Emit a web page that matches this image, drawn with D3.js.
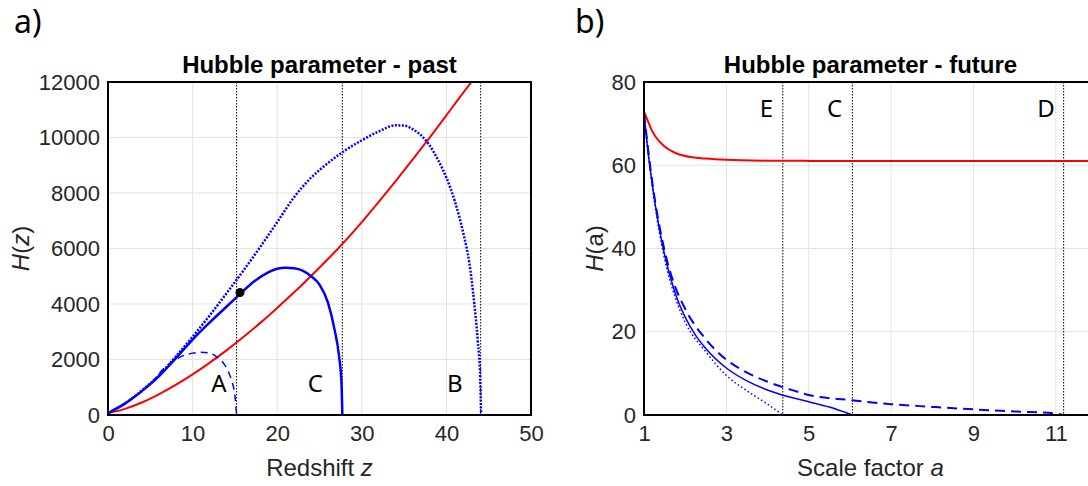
<!DOCTYPE html>
<html>
<head>
<meta charset="utf-8">
<script src="https://cdn.jsdelivr.net/npm/d3@7/dist/d3.min.js"></script>
<style>
  html, body { margin: 0; padding: 0; background: #fff; }
  svg { display: block; font-family: "Liberation Sans", Arial, sans-serif; }
</style>
</head>
<body>
<svg id="fig" width="1088" height="486"></svg>
<script>
// ---- panel a: past, redshift z ----
var pastXTicks = [0, 10, 20, 30, 40, 50];
var pastYTicks = [0, 2000, 4000, 6000, 8000, 10000, 12000];

var pastRedZ = [0, 2, 4, 6, 8, 10, 12, 14, 16, 18, 20, 22, 24, 26, 28, 30, 32, 34, 36, 38, 40, 42, 43.3];
var pastRedH = [70, 220, 450, 745, 1085, 1465, 1880, 2330, 2810, 3320, 3860, 4420, 5010, 5620, 6260, 6950, 7680, 8430, 9200, 9990, 10800, 11620, 12130];

var pastSolidZ = [0, 2, 4, 6, 8, 10, 12, 14, 15.5, 17, 19, 20, 21, 22, 23, 24, 25, 26, 26.8, 27.3, 27.6, 27.7];
var pastSolidH = [70, 410, 860, 1390, 2040, 2720, 3330, 3900, 4330, 4750, 5150, 5270, 5310, 5290, 5200, 5000, 4700, 4050, 3050, 2150, 1150, 0];

var pastDottedZ = [0, 2, 4, 6, 8, 10, 12, 14, 16, 18, 20, 22, 24, 26, 28, 30, 32, 34, 35, 36, 37, 38, 39, 40, 41, 42, 42.7, 43.3, 43.7, 44.0, 44.1];
var pastDottedH = [70, 420, 880, 1420, 2100, 2820, 3580, 4380, 5200, 6060, 6950, 7850, 8550, 9080, 9530, 9900, 10220, 10440, 10430, 10300, 10080, 9720, 9200, 8550, 7700, 6550, 5500, 4000, 2700, 1300, 0];

var pastDashedZ = [5.2, 6, 7, 8, 9, 10, 11, 12, 13, 14, 14.6, 15, 15.2];
var pastDashedH = [1150, 1480, 1780, 2000, 2150, 2230, 2260, 2230, 2060, 1700, 1250, 700, 0];

var pastMarkers = [15.2, 27.7, 44.05];
var pastPoint = [15.6, 4410];
var pastLetters = ['A', 'C', 'B'];
var pastLetterZ = [13.1, 24.5, 41.0];
var pastLetterH = [830, 830, 830];

// ---- panel b: future, scale factor a ----
var futXTicks = [1, 3, 5, 7, 9, 11];
var futYTicks = [0, 20, 40, 60, 80];

var futRedA = [1, 1.1, 1.2, 1.3, 1.5, 1.75, 2, 2.5, 3, 4, 5, 7, 10, 12];
var futRedH = [73, 70.5, 68.2, 66.6, 64.5, 63.0, 62.2, 61.6, 61.3, 61.1, 61.05, 61.0, 61.0, 61.0];

var futSolidA = [1, 1.1, 1.2, 1.35, 1.5, 1.75, 2, 2.25, 2.5, 3, 3.5, 4, 4.4, 5, 5.5, 6.06];
var futSolidH = [72.5, 63, 55.5, 46, 38.5, 29.5, 23.5, 19.2, 16, 11.3, 8.2, 6.0, 4.7, 3.2, 1.9, 0];

var futDashedA = [1, 1.2, 1.5, 1.75, 2, 2.5, 3, 3.5, 4, 4.5, 5, 6, 7, 8, 9, 10, 11, 11.19];
var futDashedH = [72.5, 56, 39.5, 31, 25.5, 18.2, 13.3, 10.2, 8.0, 6.3, 4.8, 3.6, 2.6, 1.95, 1.35, 0.85, 0.35, 0];

var futDottedA = [1, 1.2, 1.5, 1.75, 2, 2.5, 3, 3.5, 4, 4.37];
var futDottedH = [72.5, 55, 37.5, 28.5, 22.3, 15.2, 9.5, 5.8, 2.6, 0];

var futMarkers = [4.37, 6.06, 11.19];
var futLetters = ['E', 'C', 'D'];
var futLetterA = [3.97, 5.63, 10.76];
var futLetterH = [71.7, 71.7, 71.7];

(function (d3) {
    'use strict';

    var svg = d3.select('#fig');
    var top = 82, bottom = 415;

    function zip(xs, ys) {
        return xs.map(function (x, i) { return [x, ys[i]]; });
    }

    function drawPanel(p) {
        var x = d3.scaleLinear().domain(p.xDomain).range([p.left, p.right]),
            y = d3.scaleLinear().domain(p.yDomain).range([bottom, top]),
            g = svg.append('g');

        var clipId = 'clip-' + p.id;
        g.append('clipPath').attr('id', clipId)
            .append('rect')
            .attr('x', p.left).attr('y', top)
            .attr('width', p.right - p.left).attr('height', bottom - top);

        // grid
        g.append('g').attr('class', 'grid')
            .selectAll('line').data(p.xTicks).enter().append('line')
            .attr('x1', function (d) { return x(d); }).attr('x2', function (d) { return x(d); })
            .attr('y1', top).attr('y2', bottom)
            .attr('stroke', '#e3e3e3').attr('stroke-width', 1);
        g.append('g').attr('class', 'grid')
            .selectAll('line').data(p.yTicks).enter().append('line')
            .attr('x1', p.left).attr('x2', p.right)
            .attr('y1', function (d) { return y(d); }).attr('y2', function (d) { return y(d); })
            .attr('stroke', '#e3e3e3').attr('stroke-width', 1);

        // dotted reference lines
        g.append('g').selectAll('line').data(p.markers).enter().append('line')
            .attr('x1', function (d) { return x(d); }).attr('x2', function (d) { return x(d); })
            .attr('y1', top).attr('y2', bottom)
            .attr('stroke', '#000').attr('stroke-width', 1)
            .attr('stroke-dasharray', '1.5,1.5');

        var line = d3.line()
            .x(function (d) { return x(d[0]); })
            .y(function (d) { return y(d[1]); })
            .curve(d3.curveMonotoneX);

        var curves = g.append('g').attr('clip-path', 'url(#' + clipId + ')');
        p.series.forEach(function (s) {
            curves.append('path')
                .datum(zip(s.x, s.y))
                .attr('d', line)
                .attr('fill', 'none')
                .attr('stroke', s.color)
                .attr('stroke-width', s.width)
                .attr('stroke-dasharray', s.dash || null)
                .attr('stroke-linejoin', 'round');
        });

        if (p.point) {
            g.append('circle')
                .attr('cx', x(p.point[0])).attr('cy', y(p.point[1]))
                .attr('r', 4.5).attr('fill', '#000');
        }

        // letters
        g.append('g').selectAll('text').data(p.letters).enter().append('text')
            .attr('x', function (d, i) { return x(p.letterX[i]); })
            .attr('y', function (d, i) { return y(p.letterY[i]); })
            .attr('text-anchor', 'middle')
            .style('font-family', '"Noto Sans", "Open Sans", sans-serif')
            .style('font-size', '24px')
            .attr('fill', '#000')
            .text(function (d) { return d; });

        // axes, labels only
        var xAxis = d3.axisBottom(x).tickValues(p.xTicks).tickFormat(d3.format('d')).tickSize(0).tickPadding(10);
        var yAxis = d3.axisLeft(y).tickValues(p.yTicks).tickFormat(d3.format('d')).tickSize(0).tickPadding(8);
        var ax = g.append('g').attr('transform', 'translate(0,' + bottom + ')').call(xAxis);
        var ay = g.append('g').attr('transform', 'translate(' + p.left + ',0)').call(yAxis);
        [ax, ay].forEach(function (a) {
            a.select('.domain').remove();
            a.selectAll('text')
                .style('font-family', '"Liberation Sans", Arial, sans-serif')
                .style('font-size', '22px')
                .attr('fill', '#262626');
        });

        // frame
        g.append('rect')
            .attr('x', p.left).attr('y', top)
            .attr('width', p.right - p.left).attr('height', bottom - top)
            .attr('fill', 'none').attr('stroke', '#000').attr('stroke-width', 2);

        // title
        g.append('text')
            .attr('x', (p.left + p.right) / 2).attr('y', 73)
            .attr('text-anchor', 'middle')
            .style('font-weight', 'bold').style('font-size', '24px')
            .attr('fill', '#000')
            .text(p.title);

        // x label
        var xl = g.append('text')
            .attr('x', (p.left + p.right) / 2).attr('y', 476)
            .attr('text-anchor', 'middle')
            .style('font-size', '24px').attr('fill', '#262626');
        xl.append('tspan').text(p.xLabel[0]);
        xl.append('tspan').style('font-style', 'italic').text(p.xLabel[1]);

        // y label
        var yl = g.append('text')
            .attr('transform', 'translate(' + p.yLabelX + ',' + (top + bottom) / 2 + ') rotate(-90)')
            .attr('text-anchor', 'middle')
            .style('font-size', '24px').attr('fill', '#262626');
        yl.append('tspan').style('font-style', 'italic').text('H');
        yl.append('tspan').text('(');
        yl.append('tspan').style('font-style', p.yVarItalic ? 'italic' : 'normal').text(p.yVar);
        yl.append('tspan').text(')');

        // panel tag
        svg.append('text')
            .attr('x', p.tagX).attr('y', 33)
            .style('font-family', '"Noto Sans", "Open Sans", sans-serif')
            .style('font-size', '32px').attr('fill', '#000')
            .text(p.tag);
    }

    drawPanel({
        id: 'past', tag: 'a)', tagX: 14,
        left: 108, right: 531,
        xDomain: [0, 50], yDomain: [0, 12000],
        xTicks: pastXTicks, yTicks: pastYTicks,
        title: 'Hubble parameter - past',
        xLabel: ['Redshift ', 'z'], yVar: 'z', yVarItalic: true, yLabelX: 29,
        markers: pastMarkers,
        point: pastPoint,
        letters: pastLetters, letterX: pastLetterZ, letterY: pastLetterH,
        series: [
            { x: pastRedZ, y: pastRedH, color: '#ff0000', width: 2 },
            { x: pastDashedZ, y: pastDashedH, color: '#0000ff', width: 1.5, dash: '7,5' },
            { x: pastDottedZ, y: pastDottedH, color: '#0000ff', width: 2.5, dash: '2,1.5' },
            { x: pastSolidZ, y: pastSolidH, color: '#0000ff', width: 2.5 }
        ]
    });

    drawPanel({
        id: 'future', tag: 'b)', tagX: 575,
        left: 644, right: 1097,
        xDomain: [1, 12], yDomain: [0, 80],
        xTicks: futXTicks, yTicks: futYTicks,
        title: 'Hubble parameter - future',
        xLabel: ['Scale factor ', 'a'], yVar: 'a', yVarItalic: false, yLabelX: 603,
        markers: futMarkers,
        point: null,
        letters: futLetters, letterX: futLetterA, letterY: futLetterH,
        series: [
            { x: futRedA, y: futRedH, color: '#ff0000', width: 2 },
            { x: futDashedA, y: futDashedH, color: '#0000ff', width: 2, dash: '10,6' },
            { x: futDottedA, y: futDottedH, color: '#0000ff', width: 1.5, dash: '1.5,2.5' },
            { x: futSolidA, y: futSolidH, color: '#0000ff', width: 1.5 }
        ]
    });

})(d3);
</script>
</body>
</html>
